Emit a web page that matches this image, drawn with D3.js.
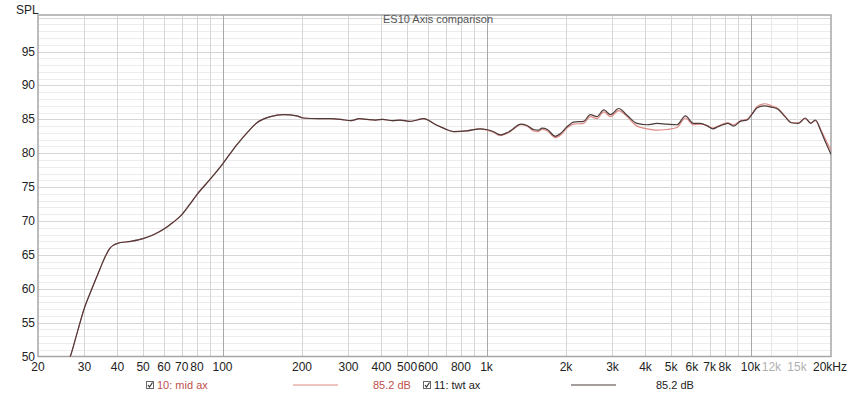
<!DOCTYPE html>
<html>
<head>
<meta charset="utf-8">
<script src="https://cdn.jsdelivr.net/npm/d3@7"></script>
<style>
  body { margin: 0; background: #fff; }
  text { font-family: "Liberation Sans", Arial, sans-serif; }
</style>
</head>
<body>
<svg id="chart"></svg>
<script>
// Frequency points (Hz) and the two measured responses (dB SPL)
const freqs = [25, 26.5, 28, 30, 32, 34.4, 36, 37.5, 38.5, 40, 45, 50, 55, 60, 65, 70, 75, 80, 90, 100,
  113, 125, 135, 152, 170, 191, 202, 230, 256, 280, 307, 330, 352, 380, 404, 440, 471, 510, 546, 577,
  600, 630, 687, 750, 843, 946, 1000, 1060, 1128, 1190, 1232, 1290, 1343, 1424, 1508, 1570, 1623, 1700,
  1822, 1920, 2017, 2140, 2332, 2472, 2620, 2780, 2950, 3168, 3405, 3716, 4055, 4425, 4800, 5268, 5664,
  6074, 6455, 6875, 7200, 7520, 7860, 8200, 8630, 9150, 9710, 10150, 10600, 11300, 12000, 12700, 13500,
  14300, 15200, 16100, 16900, 17600, 18500, 19300, 20200];

const twtAx = [48.3, 50, 53.2, 57.2, 60.0, 63.0, 64.8, 66.0, 66.4, 66.7, 67.0, 67.4, 68.0, 68.8, 69.8, 70.9, 72.4, 73.9, 76.2, 78.4,
  81.2, 83.2, 84.5, 85.4, 85.7, 85.5, 85.2, 85.1, 85.1, 85.0, 84.8, 85.1, 85.0, 84.9, 85.0, 84.8, 84.9, 84.7, 84.9, 85.1,
  84.9, 84.4, 83.7, 83.2, 83.3, 83.6, 83.5, 83.2, 82.7, 83.0, 83.3, 83.9, 84.3, 84.1, 83.5, 83.4, 83.7, 83.5,
  82.5, 83.0, 83.9, 84.6, 84.7, 85.7, 85.4, 86.4, 85.7, 86.6, 85.6, 84.4, 84.2, 84.4, 84.3, 84.2, 85.5,
  84.4, 84.4, 84.0, 83.6, 83.9, 84.2, 84.4, 84.0, 84.7, 84.9, 85.8, 86.7, 87.0, 86.8, 86.5, 85.4,
  84.5, 84.4, 85.2, 84.4, 84.9, 83.2, 81.5, 79.8];

const midAx = [48.3, 50, 53.2, 57.2, 60.0, 63.0, 64.8, 66.0, 66.4, 66.7, 67.0, 67.4, 68.0, 68.8, 69.8, 70.9, 72.4, 73.9, 76.2, 78.4,
  81.2, 83.2, 84.5, 85.4, 85.7, 85.5, 85.2, 85.1, 85.1, 85.0, 84.8, 85.1, 85.0, 84.9, 85.0, 84.8, 84.9, 84.7, 84.9, 85.1,
  84.9, 84.4, 83.7, 83.2, 83.3, 83.6, 83.4, 83.1, 82.6, 82.9, 83.2, 83.8, 84.2, 84.0, 83.3, 83.2, 83.5, 83.3,
  82.3, 82.8, 83.7, 84.3, 84.4, 85.4, 85.1, 86.1, 85.4, 86.3, 85.4, 84.0, 83.6, 83.4, 83.5, 83.8, 85.2,
  84.2, 84.3, 84.1, 83.7, 84.0, 84.3, 84.5, 84.2, 84.8, 85.0, 85.9, 86.9, 87.3, 87.0, 86.6, 85.5,
  84.5, 84.5, 85.1, 84.5, 84.8, 83.4, 81.9, 80.4];

// Axis ticks
const yTicks = [50, 55, 60, 65, 70, 75, 80, 85, 90, 95];
const xTicks = [20, 30, 40, 50, 60, 70, 80, 100, 200, 300, 400, 500, 600, 800, 1000, 2000, 3000, 4000,
  5000, 6000, 7000, 8000, 10000, 12000, 15000, 20000];
const xTickLabels = ["20", "30", "40", "50", "60", "70", "80", "100", "200", "300", "400", "500", "600", "800",
  "1k", "2k", "3k", "4k", "5k", "6k", "7k", "8k", "10k", "12k", "15k", "20kHz"];
const greyLabels = [12000, 15000];

const width = 850, height = 396;
const plotLeft = 38, plotRight = 831, plotTop = 15, plotBottom = 356.5;

const svg = d3.select("#chart")
  .attr("width", width)
  .attr("height", height);

const x = d3.scaleLog().domain([20, 20000]).range([plotLeft, 830]);
const y = d3.scaleLinear().domain([50, 100.4]).range([plotBottom, plotTop]);

// minor horizontal grid, every 1 dB
svg.append("g").selectAll("line")
  .data(d3.range(51, 101).filter(d => d % 5 !== 0))
  .join("line")
  .attr("x1", plotLeft).attr("x2", plotRight)
  .attr("y1", d => Math.round(y(d)) + 0.5).attr("y2", d => Math.round(y(d)) + 0.5)
  .attr("stroke", "#ececec");

// major horizontal grid, every 5 dB
svg.append("g").selectAll("line")
  .data([55, 60, 65, 70, 75, 80, 85, 90, 95, 100])
  .join("line")
  .attr("x1", plotLeft).attr("x2", plotRight)
  .attr("y1", d => Math.round(y(d)) + 0.5).attr("y2", d => Math.round(y(d)) + 0.5)
  .attr("stroke", "#d6d6d6");

// vertical grid: every integer multiple of a decade
const vGrid = [];
[10, 100, 1000, 10000].forEach(dec => {
  for (let n = 1; n <= 9; n++) {
    const f = n * dec;
    if (f > 20 && f < 20000) vGrid.push(f);
  }
});
svg.append("g").selectAll("line")
  .data(vGrid)
  .join("line")
  .attr("x1", d => Math.round(x(d)) + 0.5).attr("x2", d => Math.round(x(d)) + 0.5)
  .attr("y1", plotTop).attr("y2", plotBottom)
  .attr("stroke", d => [100, 1000, 10000].includes(d) ? "#a9a9a9" : "#d6d6d6");

// faint lines for the grey 12k / 15k labels
svg.append("g").selectAll("line")
  .data(greyLabels)
  .join("line")
  .attr("x1", d => Math.round(x(d)) + 0.5).attr("x2", d => Math.round(x(d)) + 0.5)
  .attr("y1", plotTop).attr("y2", plotBottom)
  .attr("stroke", "#e6e6e6");

// frame
svg.append("rect")
  .attr("x", plotLeft).attr("y", plotTop)
  .attr("width", plotRight - plotLeft).attr("height", plotBottom - plotTop)
  .attr("fill", "none")
  .attr("stroke", "#a6a6a6")
  .attr("stroke-width", 1.5);

// y tick labels
svg.append("g").selectAll("text")
  .data(yTicks)
  .join("text")
  .attr("x", 35)
  .attr("y", d => y(d) + 4)
  .attr("text-anchor", "end")
  .attr("font-size", 12)
  .attr("fill", "#222")
  .text(d => d);

svg.append("text")
  .attr("x", 16).attr("y", 14)
  .attr("font-size", 12)
  .attr("fill", "#222")
  .text("SPL");

// x tick labels
svg.append("g").selectAll("text")
  .data(xTicks)
  .join("text")
  .attr("x", d => x(d))
  .attr("y", 371)
  .attr("text-anchor", "middle")
  .attr("font-size", 12)
  .attr("fill", d => greyLabels.includes(d) ? "#b0b0b0" : "#222")
  .text((d, i) => xTickLabels[i]);

// title
svg.append("text")
  .attr("x", 383).attr("y", 23)
  .attr("font-size", 11)
  .attr("fill", "#555")
  .text("ES10 Axis comparison");

// curves
svg.append("clipPath").attr("id", "plot-clip")
  .append("rect")
  .attr("x", plotLeft).attr("y", plotTop)
  .attr("width", plotRight - plotLeft).attr("height", plotBottom - plotTop);

const line = d3.line()
  .x((d, i) => x(freqs[i]))
  .y(d => y(d))
  .curve(d3.curveMonotoneX);

const plot = svg.append("g").attr("clip-path", "url(#plot-clip)");
plot.append("path")
  .attr("d", line(midAx))
  .attr("fill", "none")
  .attr("stroke", "#de8a84")
  .attr("stroke-width", 1.2);
plot.append("path")
  .attr("d", line(twtAx))
  .attr("fill", "none")
  .attr("stroke", "#4d3a3a")
  .attr("stroke-width", 1.2);

// legend
function checkbox(cx, cy) {
  const g = svg.append("g");
  g.append("rect")
    .attr("x", cx - 3.5).attr("y", cy - 3.5)
    .attr("width", 7).attr("height", 7)
    .attr("fill", "#fff")
    .attr("stroke", "#666");
  g.append("path")
    .attr("d", `M${cx - 2},${cy} L${cx - 0.5},${cy + 2} L${cx + 2.5},${cy - 2.5}`)
    .attr("fill", "none")
    .attr("stroke", "#333")
    .attr("stroke-width", 1.2);
}

const legendY = 385;
const legend = [
  { name: "10: mid ax", value: "85.2 dB", color: "#de8a84", text: "#c0504d", box: 150, lx: 293, vx: 373 },
  { name: "11: twt ax", value: "85.2 dB", color: "#4d3a3a", text: "#222", box: 427, lx: 571, vx: 656 }
];
legend.forEach(d => {
  checkbox(d.box, legendY);
  svg.append("text")
    .attr("x", d.box + 7).attr("y", legendY + 4)
    .attr("font-size", 11)
    .attr("fill", d.text)
    .text(d.name);
  svg.append("line")
    .attr("x1", d.lx).attr("x2", d.lx + 45)
    .attr("y1", legendY).attr("y2", legendY)
    .attr("stroke", d.color)
    .attr("stroke-width", 1.2);
  svg.append("text")
    .attr("x", d.vx).attr("y", legendY + 4)
    .attr("font-size", 11)
    .attr("fill", d.text)
    .text(d.value);
});
</script>
</body>
</html>
